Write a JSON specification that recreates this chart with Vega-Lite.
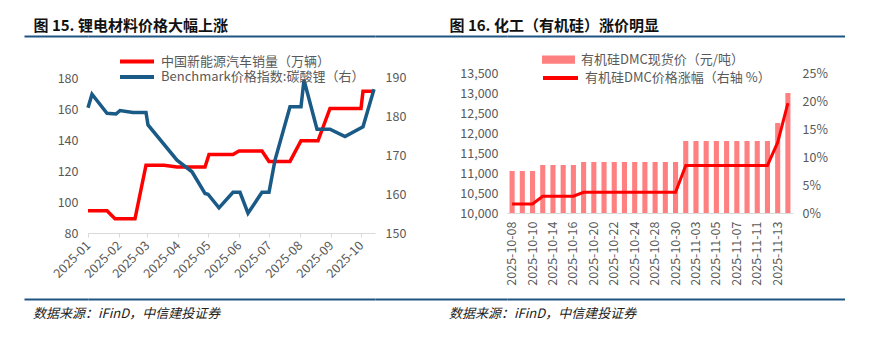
{
  "$schema": "https://vega.github.io/schema/vega-lite/v6.json",
  "padding": {"left": 21, "top": 18, "right": 0, "bottom": 0},
  "background": "white",
  "columns": 4,
  "spacing": {"row": 36, "column": 0},
  "bounds": "flush",
  "align": "each",
  "config": {
    "view": {"stroke": null},
    "font": "Noto Sans CJK SC",
    "axis": {"labelFont": "Noto Sans CJK SC", "labelColor": "#595959", "labelFontSize": 12.5, "grid": false, "title": null},
    "legend": {"labelFont": "Noto Sans CJK SC", "labelColor": "#595959", "labelFontSize": 13, "title": null, "padding": 0, "rowPadding": 0, "labelLimit": 400, "labelOffset": 5}
  },
  "datasets": {
    "deco": [{"k": 0}],
    "nev": [
      {"date": "2025-01-01", "value": 94.4}, {"date": "2025-01-20", "value": 94.4},
      {"date": "2025-01-28", "value": 89.2}, {"date": "2025-02-17", "value": 89.2},
      {"date": "2025-02-28", "value": 123.7}, {"date": "2025-03-18", "value": 123.7},
      {"date": "2025-03-31", "value": 122.6}, {"date": "2025-04-28", "value": 122.6},
      {"date": "2025-05-02", "value": 130.7}, {"date": "2025-05-26", "value": 130.7},
      {"date": "2025-06-01", "value": 132.9}, {"date": "2025-06-24", "value": 132.9},
      {"date": "2025-07-01", "value": 126.2}, {"date": "2025-07-22", "value": 126.2},
      {"date": "2025-08-02", "value": 139.5}, {"date": "2025-08-19", "value": 139.5},
      {"date": "2025-08-31", "value": 160.4}, {"date": "2025-10-01", "value": 160.4},
      {"date": "2025-10-03", "value": 171.5}, {"date": "2025-10-14", "value": 171.5}
    ],
    "li": [
      {"date": "2025-01-01", "value": 182.3}, {"date": "2025-01-05", "value": 185.8},
      {"date": "2025-01-20", "value": 180.9}, {"date": "2025-01-29", "value": 180.7},
      {"date": "2025-02-02", "value": 181.6}, {"date": "2025-02-15", "value": 181.1},
      {"date": "2025-02-28", "value": 181.1}, {"date": "2025-03-02", "value": 177.9},
      {"date": "2025-03-31", "value": 168.8}, {"date": "2025-04-15", "value": 165.8},
      {"date": "2025-04-28", "value": 160.2}, {"date": "2025-05-01", "value": 160.0},
      {"date": "2025-05-12", "value": 156.5}, {"date": "2025-05-26", "value": 160.5},
      {"date": "2025-06-02", "value": 160.5}, {"date": "2025-06-10", "value": 155.1},
      {"date": "2025-06-24", "value": 160.5}, {"date": "2025-07-01", "value": 160.5},
      {"date": "2025-07-07", "value": 168.8}, {"date": "2025-07-22", "value": 182.6},
      {"date": "2025-08-02", "value": 182.6}, {"date": "2025-08-05", "value": 189.5},
      {"date": "2025-08-18", "value": 176.8}, {"date": "2025-08-31", "value": 176.8},
      {"date": "2025-09-15", "value": 174.9}, {"date": "2025-10-03", "value": 177.4},
      {"date": "2025-10-14", "value": 187.1}
    ],
    "dmc": [
      {"date": "2025-10-08", "price": 11050, "pct": 0.016},
      {"date": "2025-10-09", "price": 11050, "pct": 0.016},
      {"date": "2025-10-10", "price": 11050, "pct": 0.016},
      {"date": "2025-10-13", "price": 11200, "pct": 0.030},
      {"date": "2025-10-14", "price": 11200, "pct": 0.030},
      {"date": "2025-10-15", "price": 11200, "pct": 0.030},
      {"date": "2025-10-16", "price": 11200, "pct": 0.030},
      {"date": "2025-10-17", "price": 11275, "pct": 0.037},
      {"date": "2025-10-20", "price": 11275, "pct": 0.037},
      {"date": "2025-10-21", "price": 11275, "pct": 0.037},
      {"date": "2025-10-22", "price": 11275, "pct": 0.037},
      {"date": "2025-10-23", "price": 11275, "pct": 0.037},
      {"date": "2025-10-24", "price": 11275, "pct": 0.037},
      {"date": "2025-10-27", "price": 11275, "pct": 0.037},
      {"date": "2025-10-28", "price": 11275, "pct": 0.037},
      {"date": "2025-10-29", "price": 11275, "pct": 0.037},
      {"date": "2025-10-30", "price": 11275, "pct": 0.037},
      {"date": "2025-10-31", "price": 11800, "pct": 0.085},
      {"date": "2025-11-03", "price": 11800, "pct": 0.085},
      {"date": "2025-11-04", "price": 11800, "pct": 0.085},
      {"date": "2025-11-05", "price": 11800, "pct": 0.085},
      {"date": "2025-11-06", "price": 11800, "pct": 0.085},
      {"date": "2025-11-07", "price": 11800, "pct": 0.085},
      {"date": "2025-11-10", "price": 11800, "pct": 0.085},
      {"date": "2025-11-11", "price": 11800, "pct": 0.085},
      {"date": "2025-11-12", "price": 11800, "pct": 0.085},
      {"date": "2025-11-13", "price": 12250, "pct": 0.126},
      {"date": "2025-11-14", "price": 13000, "pct": 0.196}
    ]
  },
  "concat": [
    {
      "width": 64, "height": 1, "data": {"name": "deco"},
      "mark": {"type": "point", "opacity": 0},
      "encoding": {"x": {"datum": 0, "type": "quantitative", "scale": {"domain": [0, 1]}, "axis": {"orient": "top", "domain": true, "domainColor": "#1f5582", "domainWidth": 2, "ticks": false, "labels": false,
        "title": "图 15. 锂电材料价格大幅上涨", "titleX": 9, "titleAlign": "left", "titleBaseline": "bottom", "titlePadding": 3, "titleLimit": 1000, "titleFont": "Noto Sans CJK SC", "titleFontSize": 15, "titleFontWeight": "bold", "titleColor": "#111111"}}}
    },
    {
      "width": 287, "height": 1, "data": {"name": "deco"},
      "mark": {"type": "point", "opacity": 0},
      "encoding": {"x": {"datum": 0, "type": "quantitative", "scale": {"domain": [0, 1]}, "axis": {"orient": "top", "domain": true, "domainColor": "#1f5582", "domainWidth": 2, "ticks": false, "labels": false, "title": null}}}
    },
    {
      "width": 132, "height": 1, "data": {"name": "deco"},
      "mark": {"type": "point", "opacity": 0},
      "encoding": {"x": {"datum": 0, "type": "quantitative", "scale": {"domain": [0, 1]}, "axis": {"orient": "top", "domain": true, "domainColor": "#1f5582", "domainWidth": 2, "ticks": false, "labels": false,
        "title": "图 16. 化工（有机硅）涨价明显", "titleX": 74, "titleAlign": "left", "titleBaseline": "bottom", "titlePadding": 3, "titleLimit": 1000, "titleFont": "Noto Sans CJK SC", "titleFontSize": 15, "titleFontWeight": "bold", "titleColor": "#111111"}}}
    },
    {
      "width": 338, "height": 1, "data": {"name": "deco"},
      "mark": {"type": "point", "opacity": 0},
      "encoding": {"x": {"datum": 0, "type": "quantitative", "scale": {"domain": [0, 1]}, "axis": {"orient": "top", "domain": true, "domainColor": "#1f5582", "domainWidth": 2, "ticks": false, "labels": false, "title": null}}}
    },
    {
      "width": 64, "height": 190, "data": {"name": "deco"},
      "mark": {"type": "point", "opacity": 0}
    },
    {
      "width": 287, "height": 160,
      "encoding": {
        "x": {"field": "date", "type": "temporal",
          "scale": {"type": "utc", "domain": [1735689600000, 1760486400000]},
          "axis": {"values": [1735689600000, 1738368000000, 1740787200000, 1743465600000, 1746057600000, 1748736000000, 1751328000000, 1754006400000, 1756684800000, 1759276800000],
            "format": "%Y-%m", "labelAngle": -45, "labelAlign": "right", "labelBaseline": "middle", "labelPadding": 6,
            "domain": true, "domainColor": "#d9d9d9", "ticks": true, "tickColor": "#d9d9d9", "tickSize": 4, "labelOverlap": false, "labelFontSize": 12.5}}
      },
      "layer": [
        {
          "data": {"name": "nev"},
          "mark": {"type": "line", "strokeWidth": 3.5},
          "encoding": {
            "y": {"field": "value", "type": "quantitative", "scale": {"domain": [80, 183.23], "nice": false, "zero": false},
              "axis": {"orient": "left", "values": [80, 100, 120, 140, 160, 180], "domain": false, "ticks": false, "labelPadding": 10}},
            "color": {"datum": "中国新能源汽车销量（万辆）", "type": "nominal", "scale": {"range": ["#ff0000"]},
              "legend": {"orient": "none", "legendX": 30, "legendY": -30.5, "symbolType": "stroke", "symbolSize": 1156, "symbolStrokeWidth": 4}}
          }
        },
        {
          "data": {"name": "li"},
          "mark": {"type": "line", "strokeWidth": 3.5},
          "encoding": {
            "y": {"field": "value", "type": "quantitative", "scale": {"domain": [150, 191.29], "nice": false, "zero": false},
              "axis": {"orient": "right", "values": [150, 160, 170, 180, 190], "domain": false, "ticks": false, "labelPadding": 10}},
            "color": {"datum": "Benchmark价格指数:碳酸锂（右）", "type": "nominal", "scale": {"range": ["#1a5a86"]},
              "legend": {"orient": "none", "legendX": 30, "legendY": -15, "symbolType": "stroke", "symbolSize": 1156, "symbolStrokeWidth": 4}}
          }
        }
      ],
      "resolve": {"scale": {"y": "independent", "color": "independent"}}
    },
    {
      "width": 132, "height": 190, "data": {"name": "deco"},
      "mark": {"type": "point", "opacity": 0}
    },
    {
      "width": 286, "height": 140,
      "data": {"name": "dmc"},
      "layer": [
        {
          "mark": {"type": "bar"},
          "encoding": {
            "x": {"field": "date", "type": "ordinal", "sort": null, "scale": {"paddingInner": 0.5, "paddingOuter": 0.25},
              "axis": {"values": ["2025-10-08", "2025-10-10", "2025-10-14", "2025-10-16", "2025-10-20", "2025-10-22", "2025-10-24", "2025-10-28", "2025-10-30", "2025-11-03", "2025-11-05", "2025-11-07", "2025-11-11", "2025-11-13"],
                "labelAngle": 270, "labelAlign": "right", "labelBaseline": "middle", "labelPadding": 8, "domain": true, "domainColor": "#d9d9d9", "ticks": false, "labelOverlap": false}},
            "y": {"field": "price", "type": "quantitative", "scale": {"domain": [10000, 13500], "nice": false, "zero": false},
              "axis": {"orient": "left", "values": [10000, 10500, 11000, 11500, 12000, 12500, 13000, 13500], "format": ",.0f", "domain": false, "ticks": false, "labelPadding": 9}},
            "y2": {"datum": 10000},
            "color": {"datum": "有机硅DMC现货价（元/吨）", "type": "nominal", "scale": {"range": ["#ff8080"]},
              "legend": {"orient": "none", "legendX": 35, "legendY": -30, "symbolType": "M-1,-0.25H1V0.25H-1Z", "symbolSize": 1089, "symbolStrokeWidth": 0, "labelOffset": 6}}
          }
        },
        {
          "mark": {"type": "line", "strokeWidth": 3},
          "encoding": {
            "x": {"field": "date", "type": "ordinal", "sort": null},
            "y": {"field": "pct", "type": "quantitative", "scale": {"domain": [0, 0.25], "nice": false},
              "axis": {"orient": "right", "values": [0, 0.05, 0.1, 0.15, 0.2, 0.25], "format": ".0%", "domain": false, "ticks": false, "labelPadding": 9}},
            "color": {"datum": "有机硅DMC价格涨幅（右轴 %）", "type": "nominal", "scale": {"range": ["#ff0000"]},
              "legend": {"orient": "none", "legendX": 34, "legendY": -14.5, "symbolType": "stroke", "symbolSize": 1225, "symbolStrokeWidth": 4}}
          }
        }
      ],
      "resolve": {"scale": {"y": "independent", "color": "independent"}}
    },
    {
      "width": 64, "height": 1, "data": {"name": "deco"},
      "title": {"text": "数据来源：iFinD，中信建投证券", "orient": "bottom", "anchor": "start", "frame": "group", "dx": 9, "offset": 6, "baseline": "top", "fontSize": 13, "fontStyle": "italic", "fontWeight": "normal", "color": "#222222", "font": "Noto Sans CJK SC"},
      "mark": {"type": "point", "opacity": 0},
      "encoding": {"x": {"datum": 0, "type": "quantitative", "scale": {"domain": [0, 1]}, "axis": {"orient": "top", "domain": true, "domainColor": "#1f5582", "domainWidth": 2, "ticks": false, "labels": false, "title": null}}}
    },
    {
      "width": 287, "height": 1, "data": {"name": "deco"},
      "mark": {"type": "point", "opacity": 0},
      "encoding": {"x": {"datum": 0, "type": "quantitative", "scale": {"domain": [0, 1]}, "axis": {"orient": "top", "domain": true, "domainColor": "#1f5582", "domainWidth": 2, "ticks": false, "labels": false, "title": null}}}
    },
    {
      "width": 132, "height": 1, "data": {"name": "deco"},
      "title": {"text": "数据来源：iFinD，中信建投证券", "orient": "bottom", "anchor": "start", "frame": "group", "dx": 74, "offset": 6, "baseline": "top", "fontSize": 13, "fontStyle": "italic", "fontWeight": "normal", "color": "#222222", "font": "Noto Sans CJK SC"},
      "mark": {"type": "point", "opacity": 0},
      "encoding": {"x": {"datum": 0, "type": "quantitative", "scale": {"domain": [0, 1]}, "axis": {"orient": "top", "domain": true, "domainColor": "#1f5582", "domainWidth": 2, "ticks": false, "labels": false, "title": null}}}
    },
    {
      "width": 338, "height": 1, "data": {"name": "deco"},
      "mark": {"type": "point", "opacity": 0},
      "encoding": {"x": {"datum": 0, "type": "quantitative", "scale": {"domain": [0, 1]}, "axis": {"orient": "top", "domain": true, "domainColor": "#1f5582", "domainWidth": 2, "ticks": false, "labels": false, "title": null}}}
    }
  ]
}
